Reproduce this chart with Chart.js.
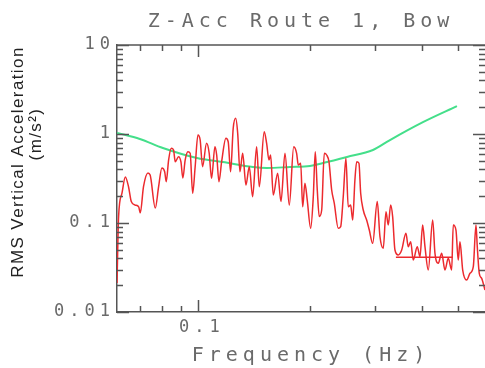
<!DOCTYPE html>
<html>
<head>
<meta charset="utf-8">
<script src="https://cdn.jsdelivr.net/npm/chart.js@4.4.0/dist/chart.umd.min.js"></script>
<style>
  html, body { margin: 0; padding: 0; background: #fff; }
  #wrap { width: 485px; height: 368px; }
</style>
</head>
<body>
<div id="wrap"><canvas id="acc-chart" width="485" height="368"></canvas></div>
<script>
'use strict';

// TEXT

let chartTitle = 'Z-Acc Route 1, Bow';
let xTitle = 'Frequency (Hz)';
let yTitle = ['RMS Vertical Acceleration', '(m/s²)'];

// MEASURED SPECTRUM (red)

let redFreq = [0.0606,0.0612,0.0625,0.0638,0.0651,0.0662,0.0678,0.0693,0.0700,0.0714,
  0.0734,0.0744,0.0768,0.0784,0.0800,0.0814,0.0822,0.0834,0.0848,0.0860,
  0.0869,0.0887,0.0900,0.0911,0.0924,0.0940,0.0953,0.0968,0.0983,0.1000,
  0.1014,0.1029,0.1055,0.1072,0.1088,0.1111,0.1123,0.1139,0.1158,0.1189,
  0.1206,0.1224,0.1244,0.1263,0.1279,0.1297,0.1319,0.1346,0.1374,0.1403,
  0.1438,0.1462,0.1507,0.1530,0.1552,0.1568,0.1594,0.1638,0.1672,0.1714,
  0.1760,0.1809,0.1842,0.1861,0.1889,0.1912,0.1939,0.1967,0.2009,0.2042,
  0.2067,0.2093,0.2119,0.2151,0.2186,0.2218,0.2250,0.2288,0.2325,0.2383,
  0.2419,0.2458,0.2499,0.2535,0.2573,0.2606,0.2642,0.2671,0.2709,0.2738,
  0.2782,0.2841,0.2888,0.2949,0.3034,0.3085,0.3149,0.3202,0.3248,0.3296,
  0.3337,0.3385,0.3455,0.3529,0.3623,0.3675,0.3731,0.3791,0.3886,0.3952,
  0.4018,0.4076,0.4160,0.4275,0.4336,0.4426,0.4520,0.4613,0.4708,0.4808,
  0.4856,0.4938,0.5008,0.5062,0.5148,0.5276,0.5385,0.5497,0.5589,0.5634,
  0.5704,0.5789,0.5909];
let redAcc = [0.0212,0.118,0.217,0.329,0.254,0.174,0.159,0.152,0.130,0.256,
  0.365,0.346,0.147,0.256,0.415,0.377,0.291,0.510,0.691,0.661,
  0.488,0.556,0.488,0.320,0.510,0.633,0.607,0.216,0.429,0.975,
  0.856,0.429,0.786,0.612,0.318,0.720,0.581,0.291,0.488,0.895,
  0.819,0.377,1.159,1.501,1.018,0.377,0.607,0.267,0.429,0.197,
  0.720,0.256,1.061,0.786,0.510,0.581,0.206,0.362,0.174,0.607,
  0.159,0.720,0.607,0.448,0.469,0.152,0.279,0.181,0.0872,0.197,
  0.633,0.235,0.118,0.140,0.607,0.581,0.488,0.235,0.167,0.0872,
  0.0909,0.197,0.533,0.152,0.159,0.108,0.304,0.488,0.469,0.216,
  0.140,0.108,0.0834,0.0591,0.174,0.0702,0.0519,0.134,0.0950,0.159,
  0.118,0.0497,0.0437,0.0497,0.0766,0.0542,0.0617,0.0384,0.0542,0.0418,
  0.0950,0.0542,0.0296,0.108,0.0457,0.0353,0.0457,0.0296,0.0401,0.0296,
  0.0950,0.0834,0.0384,0.0617,0.0296,0.0229,0.0272,0.0323,0.0950,0.0542,
  0.0272,0.0239,0.0177];

// flat stray segment in the red trace
let segFreq = [0.3405, 0.484];
let segAcc = [0.0412, 0.0412];

// COMFORT LIMIT CURVE (green)

let greenFreq = [0.0606,0.0698,0.0805,0.0994,0.1167,0.1406,0.1532,0.1767,0.2000,0.2168,0.2515,0.2954,0.3282,0.4025,0.4968];
let greenAcc = [1.03,0.879,0.696,0.537,0.484,0.426,0.415,0.426,0.437,0.472,0.552,0.661,0.856,1.36,2.06];

// AXES

let xMin = 0.0606;
let xMax = 0.591;
let yMin = 0.01;
let yMax = 10;
let xTickValues = [0.1];
let xTickLabels = ['0.1'];
let xMinorTicks = [0.07, 0.08, 0.09, 0.2, 0.3, 0.4, 0.5];
let yTickValues = [0.01, 0.1, 1, 10];
let yTickLabels = ['0.01', '0.1', '1', '10'];
let yMinorTicks = [0.02,0.03,0.04,0.05,0.06,0.07,0.08,0.09,
  0.2,0.3,0.4,0.5,0.6,0.7,0.8,0.9,
  2,3,4,5,6,7,8,9];

// STYLE

let monoFont = '"DejaVu Sans Mono", "Liberation Mono", monospace';
let textGrey = '#6a6a6a';
let axisGrey = '#555555';
let redColor = '#ec2a2e';
let greenColor = '#44df8a';

function toPoints(xs, ys) {
  let pts = [];
  for (let i = 0; i < xs.length; i++) {
    pts.push({ x: xs[i], y: ys[i] });
  }
  return pts;
}

// PLUGIN: inward ticks on all four sides, top frame, axis titles

let frameTicks = {
  id: 'frameTicks',
  beforeLayout(chart) {
    chart.ctx.letterSpacing = '5px';
  },
  beforeDraw(chart) {
    chart.ctx.letterSpacing = '5px';
  },
  afterDraw(chart) {
    let c = chart.ctx;
    let area = chart.chartArea;
    let xs = chart.scales.x;
    let ys = chart.scales.y;

    c.save();
    c.strokeStyle = axisGrey;
    c.lineWidth = 1.5;
    c.beginPath();
    c.moveTo(area.left, area.top);
    c.lineTo(area.right, area.top);

    function xTick(v, len) {
      let px = Math.round(xs.getPixelForValue(v)) + 0.5;
      c.moveTo(px, area.bottom);
      c.lineTo(px, area.bottom - len);
      c.moveTo(px, area.top);
      c.lineTo(px, area.top + len);
    }
    function yTick(v, len) {
      let py = Math.round(ys.getPixelForValue(v)) + 0.5;
      c.moveTo(area.left, py);
      c.lineTo(area.left + len, py);
      c.moveTo(area.right, py);
      c.lineTo(area.right - len, py);
    }
    xMinorTicks.forEach(v => xTick(v, 6));
    xTickValues.forEach(v => xTick(v, 12));
    yMinorTicks.forEach(v => yTick(v, 6));
    yTickValues.forEach(v => yTick(v, 12));
    c.stroke();

    // x title
    c.letterSpacing = '5px';
    c.font = '20px ' + monoFont;
    c.fillStyle = textGrey;
    c.textAlign = 'center';
    c.textBaseline = 'alphabetic';
    c.fillText(xTitle, (area.left + area.right) / 2 + 10, area.bottom + 49);

    // y title, two rotated lines
    c.letterSpacing = '1.4px';
    c.font = '17px "Liberation Sans", Arial, sans-serif';
    c.fillStyle = '#222222';
    c.textBaseline = 'middle';
    c.save();
    c.translate(18, area.top + 117);
    c.rotate(-Math.PI / 2);
    c.fillText(yTitle[0], 0, 0);
    c.restore();
    c.save();
    c.translate(36, area.top + 89);
    c.rotate(-Math.PI / 2);
    c.fillText(yTitle[1], 0, 0);
    c.restore();

    c.restore();
  }
};

// CHART

let ctx = document.getElementById('acc-chart');

let chartObject = {
  type: 'line',
  data: {
    datasets: [{
      label: 'Measured',
      data: toPoints(redFreq, redAcc),
      borderColor: redColor,
      borderWidth: 1.5,
      pointRadius: 0,
      cubicInterpolationMode: 'monotone'
    },
    {
      label: 'Segment',
      data: toPoints(segFreq, segAcc),
      borderColor: redColor,
      borderWidth: 1.3,
      pointRadius: 0
    },
    {
      label: 'Limit',
      data: toPoints(greenFreq, greenAcc),
      borderColor: greenColor,
      borderWidth: 2,
      pointRadius: 0,
      cubicInterpolationMode: 'monotone'
    }]
  },
  options: {
    responsive: false,
    animation: false,
    devicePixelRatio: 1,
    layout: { padding: { left: 0, right: 0, top: 0, bottom: 0 } },
    plugins: {
      legend: { display: false },
      tooltip: { enabled: false },
      title: {
        display: true,
        text: chartTitle,
        fullSize: false,
        color: textGrey,
        font: { family: monoFont, size: 20, weight: 'normal' },
        padding: { top: 10, bottom: 11 }
      }
    },
    scales: {
      x: {
        type: 'logarithmic',
        min: xMin,
        max: xMax,
        afterFit(s) { s.height = 56; },
        afterBuildTicks(s) { s.ticks = xTickValues.map(v => ({ value: v })); },
        grid: { display: false, drawTicks: false },
        border: { display: true, color: axisGrey, width: 1.5 },
        ticks: {
          autoSkip: false,
          maxRotation: 0,
          padding: 5,
          labelOffset: 4,
          color: textGrey,
          font: { family: monoFont, size: 17 },
          callback: (v, i) => xTickLabels[i]
        }
      },
      y: {
        type: 'logarithmic',
        min: yMin,
        max: yMax,
        afterFit(s) { s.width = 117; },
        afterBuildTicks(s) { s.ticks = yTickValues.map(v => ({ value: v })); },
        grid: { display: false, drawTicks: false },
        border: { display: true, color: axisGrey, width: 1.5 },
        ticks: {
          autoSkip: false,
          padding: 2,
          color: textGrey,
          font: { family: monoFont, size: 17 },
          callback: (v, i) => yTickLabels[i]
        }
      }
    }
  },
  plugins: [frameTicks]
};

const accChart = new Chart(ctx, chartObject);
</script>
</body>
</html>
